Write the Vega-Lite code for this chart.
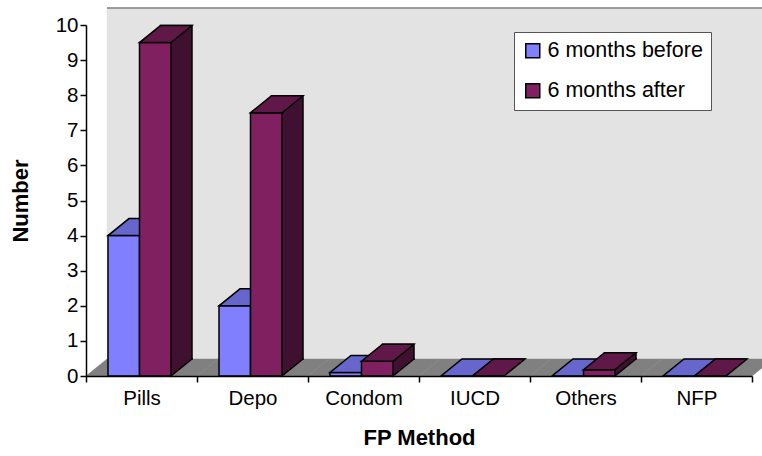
{
  "$schema": "https://vega.github.io/schema/vega-lite/v6.json",
  "width": 666,
  "height": 351,
  "autosize": {"type": "none"},
  "padding": {"left": 86, "top": 25, "right": 10, "bottom": 80},
  "background": "white",
  "config": {"view": {"stroke": null}, "font": "Liberation Sans"},
  "data": {
    "values": [
      {"Method": "Pills", "Series": "6 months before", "Number": 4},
      {"Method": "Pills", "Series": "6 months after", "Number": 9.5},
      {"Method": "Depo", "Series": "6 months before", "Number": 2},
      {"Method": "Depo", "Series": "6 months after", "Number": 7.5},
      {"Method": "Condom", "Series": "6 months before", "Number": 0.1},
      {"Method": "Condom", "Series": "6 months after", "Number": 0.42},
      {"Method": "IUCD", "Series": "6 months before", "Number": 0},
      {"Method": "IUCD", "Series": "6 months after", "Number": 0},
      {"Method": "Others", "Series": "6 months before", "Number": 0},
      {"Method": "Others", "Series": "6 months after", "Number": 0.18},
      {"Method": "NFP", "Series": "6 months before", "Number": 0},
      {"Method": "NFP", "Series": "6 months after", "Number": 0}
    ]
  },
  "encoding": {
    "x": {
      "field": "Method",
      "type": "nominal",
      "sort": null,
      "scale": {"domain": ["Pills", "Depo", "Condom", "IUCD", "Others", "NFP"], "paddingInner": 0, "paddingOuter": 0},
      "title": "FP Method",
      "axis": {
        "tickBand": "extent",
        "labelAngle": 0,
        "labelFontSize": 20.5,
        "labelColor": "black",
        "labelPadding": 6,
        "tickSize": 6,
        "tickColor": "black",
        "tickWidth": 1.5,
        "domainColor": "black",
        "domainWidth": 1.5,
        "titleFontSize": 22,
        "titleFontWeight": "bold",
        "titleColor": "black",
        "titlePadding": 19,
        "grid": false,
        "zindex": 1
      }
    },
    "y": {
      "field": "Number",
      "type": "quantitative",
      "scale": {"domain": [0, 10], "nice": false},
      "title": "Number",
      "axis": {
        "values": [0, 1, 2, 3, 4, 5, 6, 7, 8, 9, 10],
        "labelFontSize": 20.5,
        "labelColor": "black",
        "labelPadding": 2,
        "tickSize": 6,
        "tickColor": "black",
        "tickWidth": 1.5,
        "domainColor": "black",
        "domainWidth": 1.5,
        "titleFontSize": 22,
        "titleFontWeight": "bold",
        "titleColor": "black",
        "titlePadding": 23,
        "grid": false,
        "zindex": 1
      }
    }
  },
  "layer": [
    {
      "transform": [{"filter": "datum.Series === '6 months before'"}],
      "mark": {"type": "bar", "fill": "#E3E3E3", "stroke": "#E3E3E3", "strokeWidth": 0.5, "xOffset": 21, "yOffset": -17, "y2Offset": -17},
      "encoding": {"y": {"datum": 10}, "y2": {"datum": 0}}
    },
    {
      "data": {"values": [{}]},
      "mark": {"type": "bar", "fill": "#E3E3E3", "width": 21, "xOffset": -45, "yOffset": -17},
      "encoding": {"x": {"datum": "Pills"}, "y": {"datum": 10}, "y2": {"datum": 0}}
    },
    {
      "data": {"values": [{}]},
      "mark": {"type": "point", "shape": "M -55.5 0 L -34.5 -17 L -34.5 -18 L -57 -18 L -57 0 Z", "size": 4, "filled": true, "fill": "white", "opacity": 1, "strokeWidth": 0},
      "encoding": {"x": {"datum": "Pills"}, "y": {"datum": 10}}
    },
    {
      "transform": [{"filter": "datum.Series === '6 months before'"}],
      "mark": {"type": "point", "shape": "M -55.5 0 L 55.5 0 L 76.5 -17 L -34.5 -17 Z", "size": 4, "filled": true, "fill": "#808080", "stroke": "#808080", "strokeWidth": 0.5, "opacity": 1},
      "encoding": {"y": {"datum": 0}}
    },
    {
      "transform": [{"filter": "datum.Series === '6 months before'"}],
      "mark": {"type": "point", "shape": "M -55.5 0 L 55.5 0", "size": 4, "filled": false, "color": "#808080", "strokeWidth": 1.5, "opacity": 1, "xOffset": 21, "yOffset": -17},
      "encoding": {"y": {"datum": 10}}
    },
    {
      "data": {"values": [{}]},
      "mark": {"type": "rule", "color": "#808080", "strokeWidth": 1.5, "xOffset": -34.5, "yOffset": -17, "y2Offset": -17},
      "encoding": {"x": {"datum": "Pills"}, "y": {"datum": 10}, "y2": {"datum": 0}}
    },
    {
      "data": {"values": [{}]},
      "mark": {"type": "point", "shape": "M -55.5 0 L -34.5 -17", "size": 4, "filled": false, "color": "#808080", "strokeWidth": 1.5, "opacity": 1},
      "encoding": {"x": {"datum": "Pills"}, "y": {"datum": 10}}
    },
    {
      "transform": [{"filter": "datum.Series === '6 months before'"}],
      "mark": {"type": "bar", "width": 31.5, "xOffset": -17.75, "stroke": "black", "strokeWidth": 1.5},
      "encoding": {
        "color": {
          "field": "Series",
          "type": "nominal",
          "scale": {"domain": ["6 months before", "6 months after"], "range": ["#8080FF", "#802060"]},
          "legend": {
            "orient": "none",
            "legendX": 428,
            "legendY": 7,
            "title": null,
            "fillColor": "white",
            "strokeColor": "#555555",
            "padding": 8,
            "rowPadding": 17,
            "symbolType": "square",
            "symbolSize": 196,
            "symbolStrokeColor": "black",
            "symbolStrokeWidth": 1.5,
            "symbolOpacity": 1,
            "labelFontSize": 21.5,
            "labelColor": "black",
            "labelOffset": 4
          }
        }
      }
    },
    {
      "transform": [{"filter": "datum.Series === '6 months before'"}],
      "mark": {"type": "point", "shape": "M -15.75 0 L 15.75 0 L 36.75 -17 L 5.25 -17 Z", "size": 4, "filled": true, "fill": "#6666CC", "stroke": "black", "strokeWidth": 1.5, "opacity": 1, "xOffset": -17.75}
    },
    {
      "transform": [{"filter": "datum.Series === '6 months after'"}],
      "mark": {"type": "bar", "width": 31.5, "xOffset": 34.75, "yOffset": -17, "y2Offset": -17, "fill": "#401030", "stroke": "black", "strokeWidth": 1.5},
      "encoding": {"y2": {"datum": 0}}
    },
    {
      "transform": [{"filter": "datum.Series === '6 months after' && datum.Number > 0"}],
      "mark": {"type": "point", "shape": "M 0 -18 L 0 0 L 21 -17 L 21 -18", "size": 4, "filled": true, "fill": "#401030", "stroke": "black", "strokeWidth": 1.5, "opacity": 1, "xOffset": 29.5},
      "encoding": {"y": {"datum": 0}}
    },
    {
      "transform": [{"filter": "datum.Series === '6 months after'"}],
      "mark": {"type": "bar", "width": 31.5, "xOffset": 13.75, "stroke": "black", "strokeWidth": 1.5},
      "encoding": {
        "color": {
          "field": "Series",
          "type": "nominal",
          "scale": {"domain": ["6 months before", "6 months after"], "range": ["#8080FF", "#802060"]}
        }
      }
    },
    {
      "transform": [{"filter": "datum.Series === '6 months after'"}],
      "mark": {"type": "point", "shape": "M -15.75 0 L 15.75 0 L 36.75 -17 L 5.25 -17 Z", "size": 4, "filled": true, "fill": "#601848", "stroke": "black", "strokeWidth": 1.5, "opacity": 1, "xOffset": 13.75}
    }
  ]
}
